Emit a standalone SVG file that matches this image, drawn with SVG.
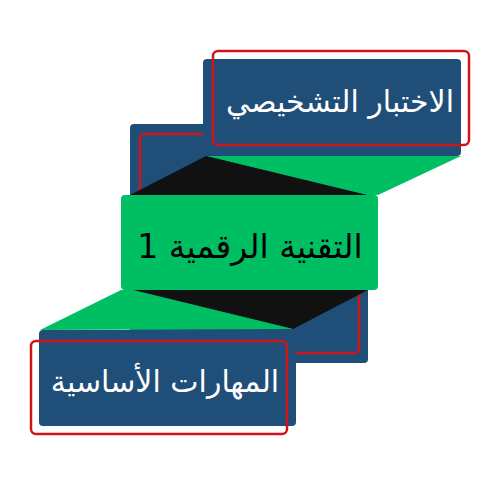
<svg xmlns="http://www.w3.org/2000/svg" width="500" height="500" viewBox="0 0 500 500">
<style>
.blue{fill:#1f4e78}
.green{fill:#00bf63}
.dark{fill:#111111}
.red{fill:none;stroke:#d0141a;stroke-width:2.5}
.t{font-family:"DejaVu Sans","Noto Sans",sans-serif;font-size:30px;text-anchor:middle;direction:rtl}
</style>
<rect width="500" height="500" fill="#ffffff"/>
<g id="back">
<rect class="blue" x="130" y="124" width="238" height="239" rx="4"/>
<rect class="red" x="140" y="134" width="219" height="219" rx="4"/>
</g>
<g id="node-top">
<rect class="blue" x="203" y="59" width="258" height="97" rx="4"/>
<rect class="red" x="213" y="51" width="256" height="94" rx="5"/>
<text class="t" x="340" y="112" fill="#ffffff">الاختبار التشخيصي</text>
</g>
<g id="connectors">
<polygon class="green" points="206,156 461,156 378,195 367,195"/>
<polygon class="dark" points="206,156 367,195 130,195"/>
<polygon class="dark" points="133,290 368,290 293,329"/>
<polygon class="green" points="121,290 133,290 293,329 40,330"/>
</g>
<g id="node-middle">
<rect class="green" x="121" y="195" width="257" height="95" rx="4"/>
<text class="t" x="250" y="258" fill="#000000" style="font-size:33px">التقنية الرقمية 1</text>
</g>
<g id="node-bottom">
<rect class="blue" x="39" y="330" width="257" height="96" rx="4"/>
<rect class="red" x="31" y="341" width="256" height="93" rx="5"/>
<text class="t" x="165" y="392" fill="#ffffff">المهارات الأساسية</text>
</g>
</svg>
